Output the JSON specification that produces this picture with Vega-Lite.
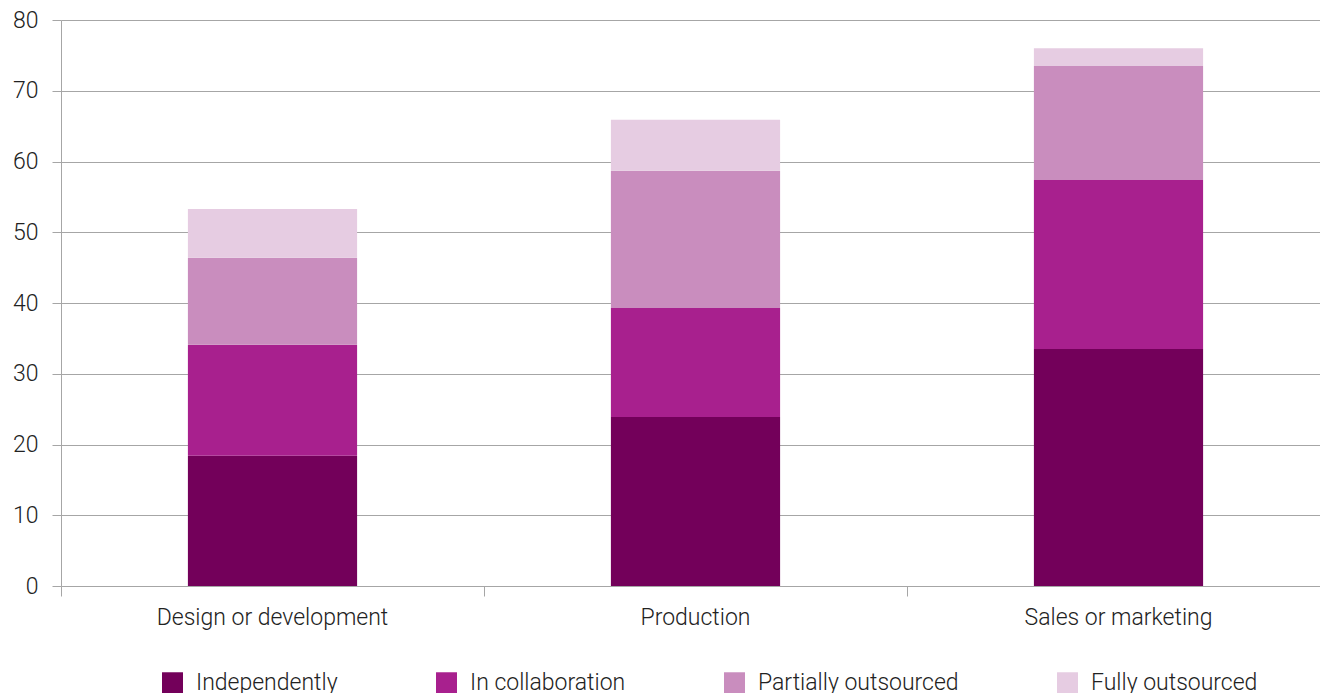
{
  "$schema": "https://vega.github.io/schema/vega-lite/v6.json",
  "autosize": "none",
  "width": 1269,
  "height": 566,
  "padding": {"left": 61, "top": 20, "right": 0, "bottom": 107},
  "background": "white",
  "config": {
    "font": "Roboto",
    "view": {"stroke": null}
  },
  "data": {
    "values": [
      {"area": "Design or development", "mode": "Independently", "k": 1, "v": 18.4},
      {"area": "Design or development", "mode": "In collaboration", "k": 2, "v": 15.7},
      {"area": "Design or development", "mode": "Partially outsourced", "k": 3, "v": 12.3},
      {"area": "Design or development", "mode": "Fully outsourced", "k": 4, "v": 6.9},
      {"area": "Production", "mode": "Independently", "k": 1, "v": 23.9},
      {"area": "Production", "mode": "In collaboration", "k": 2, "v": 15.4},
      {"area": "Production", "mode": "Partially outsourced", "k": 3, "v": 19.4},
      {"area": "Production", "mode": "Fully outsourced", "k": 4, "v": 7.2},
      {"area": "Sales or marketing", "mode": "Independently", "k": 1, "v": 33.5},
      {"area": "Sales or marketing", "mode": "In collaboration", "k": 2, "v": 23.9},
      {"area": "Sales or marketing", "mode": "Partially outsourced", "k": 3, "v": 16.1},
      {"area": "Sales or marketing", "mode": "Fully outsourced", "k": 4, "v": 2.5}
    ]
  },
  "mark": {"type": "bar", "width": {"band": 0.4}},
  "encoding": {
    "x": {
      "field": "area", "type": "nominal", "sort": null,
      "scale": {"paddingInner": 0, "paddingOuter": 0},
      "axis": {
        "title": null, "labelAngle": 0, "bandPosition": 0,
        "domain": false, "ticks": true, "tickSize": 10, "tickColor": "#a6a6a6",
        "labelFontSize": 23, "labelColor": "#222", "labelFont": "Roboto", "labelFontWeight": 300,
        "labelPadding": 10, "labelLimit": 0, "grid": false
      }
    },
    "y": {
      "field": "v", "type": "quantitative", "stack": "zero",
      "scale": {"domain": [0, 80]},
      "axis": {
        "title": null, "values": [0,10,20,30,40,50,60,70,80],
        "domain": true, "domainColor": "#a6a6a6",
        "grid": true, "gridColor": "#a6a6a6", "gridWidth": 1,
        "ticks": true, "tickSize": 9, "tickColor": "#a6a6a6",
        "labelFontSize": 23, "labelColor": "#222", "labelFont": "Roboto", "labelFontWeight": 300,
        "labelPadding": 14
      }
    },
    "order": {"field": "k", "type": "quantitative", "sort": "ascending"},
    "color": {
      "field": "mode", "type": "nominal",
      "scale": {
        "domain": ["Independently", "In collaboration", "Partially outsourced", "Fully outsourced"],
        "range": ["#73005A", "#A8208E", "#C98DBE", "#E6CCE2"]
      },
      "legend": {
        "title": null, "orient": "none", "direction": "horizontal",
        "legendX": 100, "legendY": 651,
        "symbolType": "square", "symbolSize": 440, "symbolStrokeWidth": 0,
        "labelFontSize": 23, "labelColor": "#222", "labelFont": "Roboto", "labelFontWeight": 300,
        "labelOffset": 12, "columnPadding": 97, "labelLimit": 0, "symbolOpacity": 1
      }
    }
  }
}
